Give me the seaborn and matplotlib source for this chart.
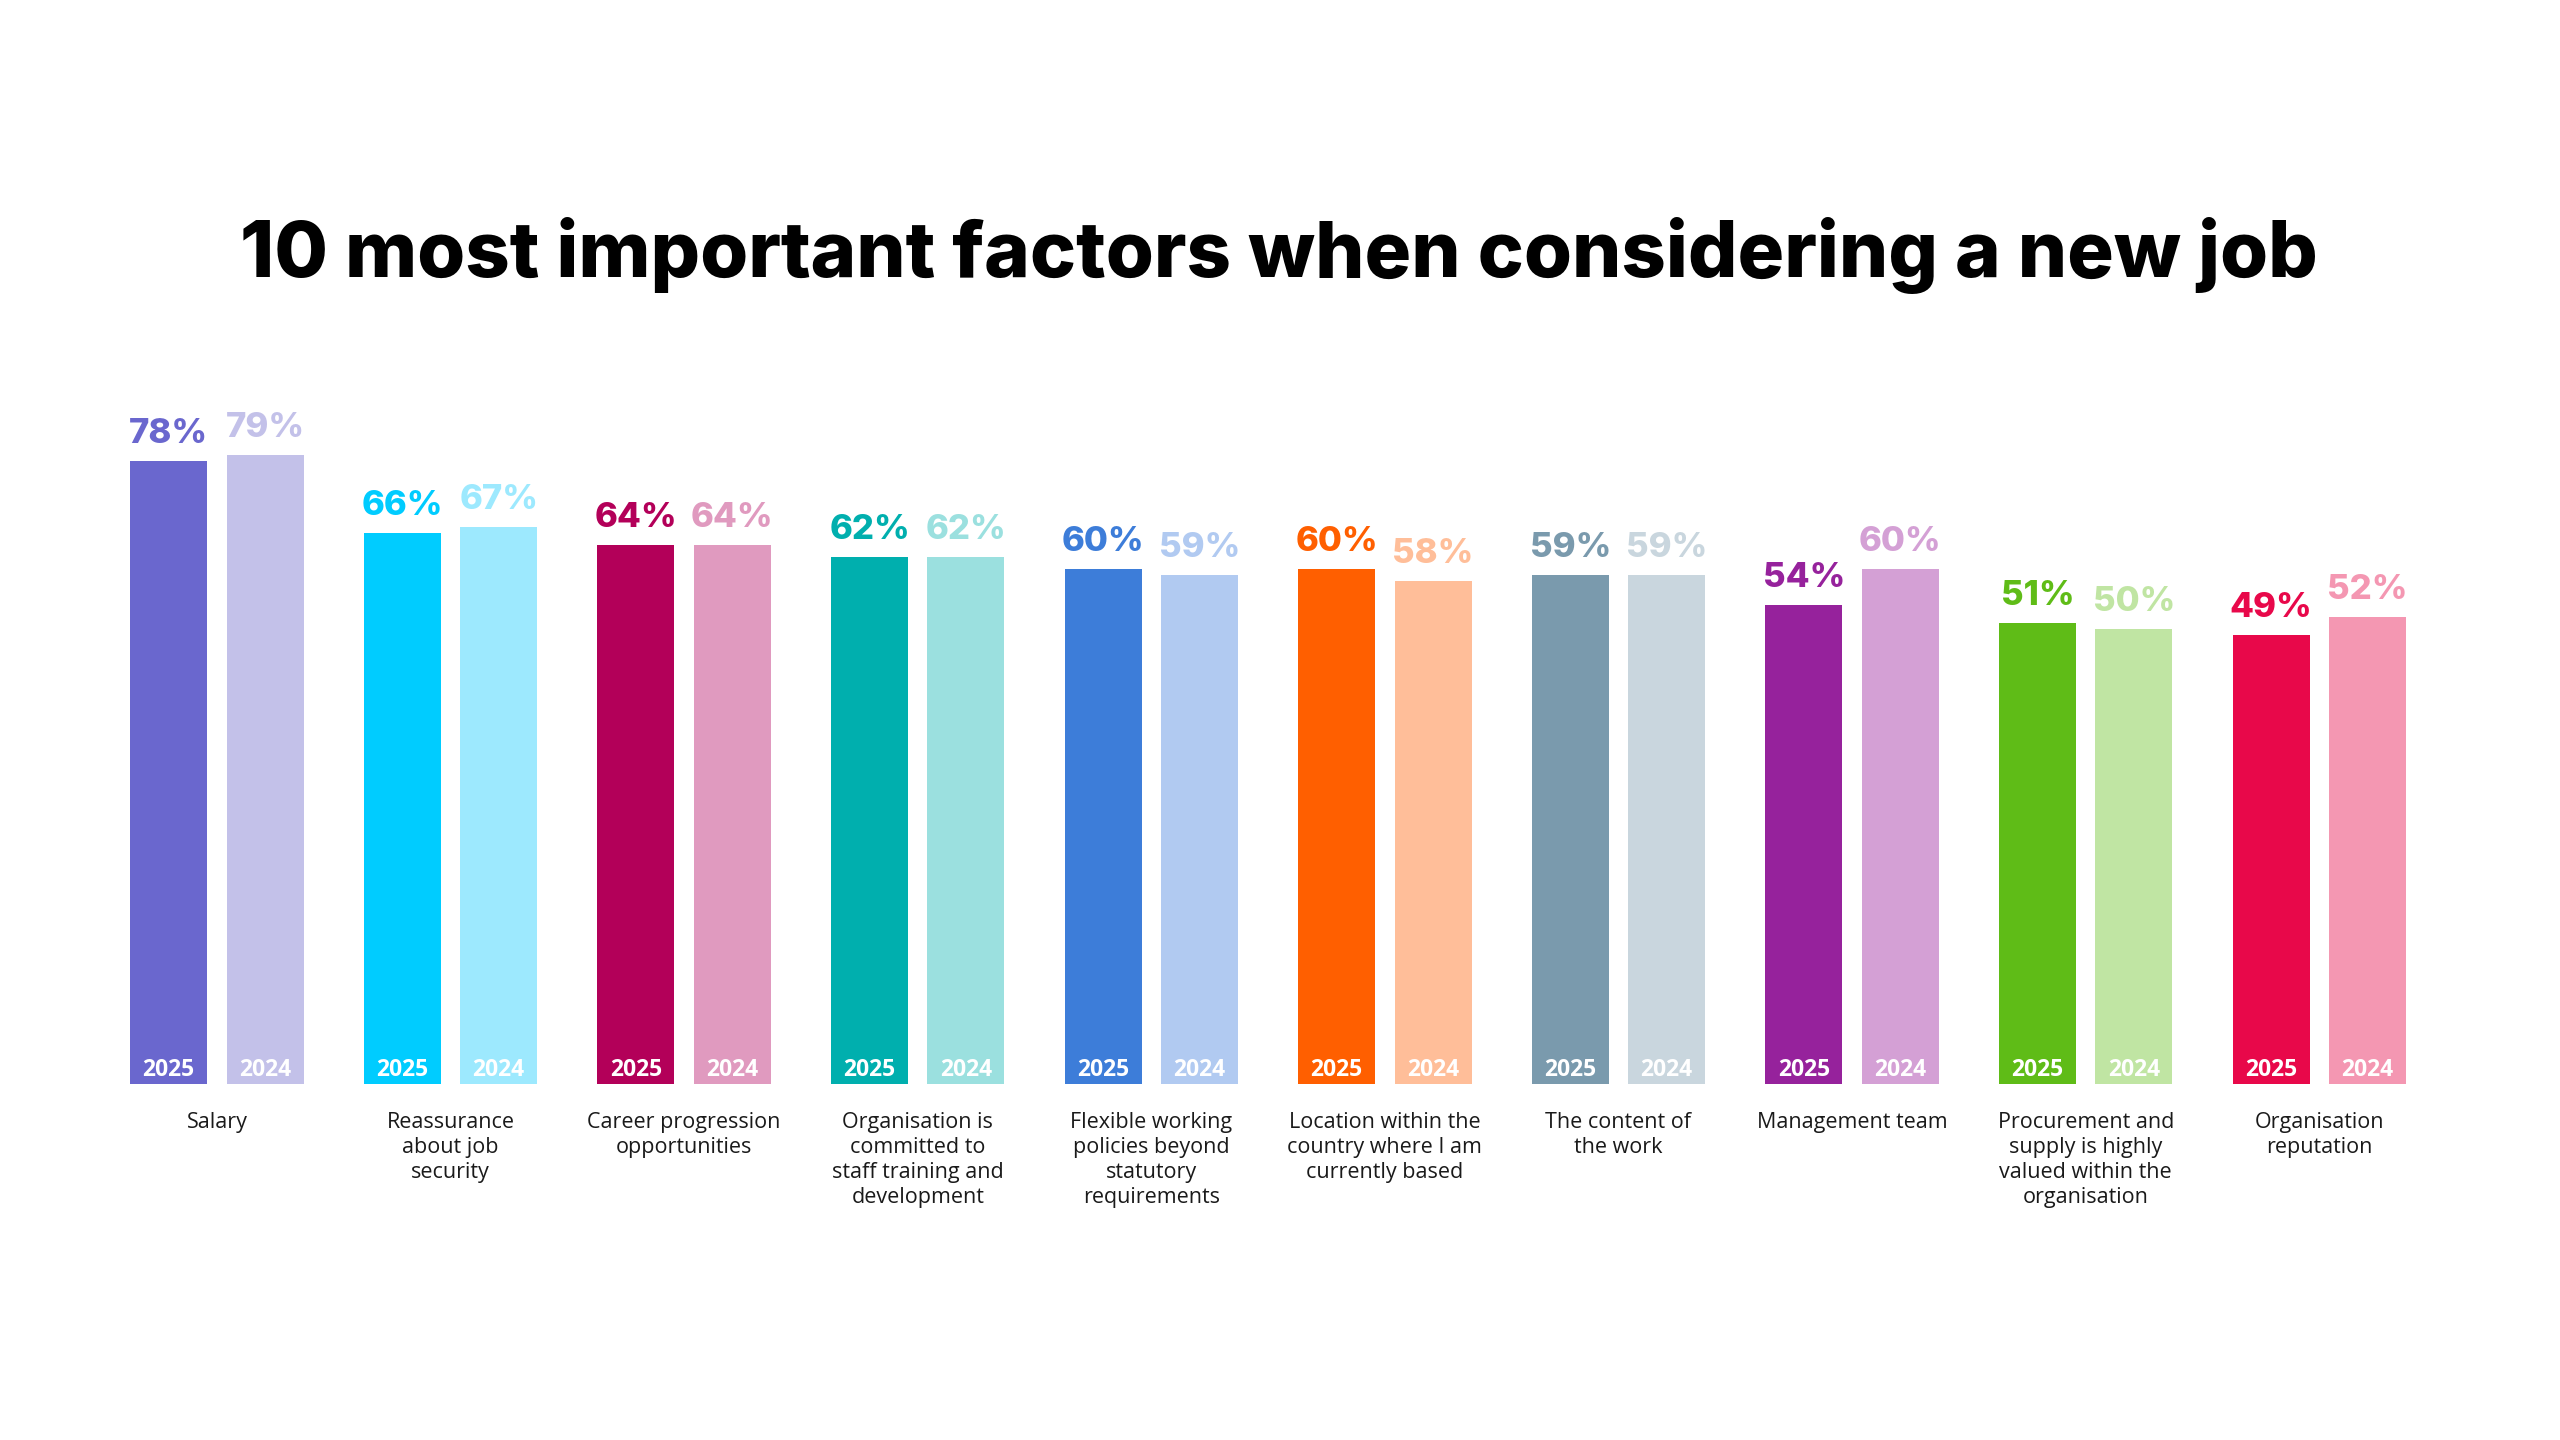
import matplotlib
matplotlib.use("Agg")
import matplotlib.pyplot as plt
import seaborn as sns
import pandas as pd

factors = [
    "Salary",
    "Reassurance\nabout job\nsecurity",
    "Career progression\nopportunities",
    "Organisation is\ncommitted to\nstaff training and\ndevelopment",
    "Flexible working\npolicies beyond\nstatutory\nrequirements",
    "Location within the\ncountry where I am\ncurrently based",
    "The content of\nthe work",
    "Management team",
    "Procurement and\nsupply is highly\nvalued within the\norganisation",
    "Organisation\nreputation",
]
values_2025 = [78, 66, 64, 62, 60, 60, 59, 54, 51, 49]
values_2024 = [79, 67, 64, 62, 59, 58, 59, 60, 50, 52]
years = ["2025", "2024"]
colors_2025 = ["#6A67CE", "#00CCFF", "#B30059", "#00AFAE", "#3D7DD9",
               "#FF5F00", "#7A9AAD", "#96229C", "#5FBC17", "#E8084A"]
colors_2024 = ["#C3C1E9", "#9DE9FE", "#E09ABF", "#9BE0DF", "#B1CAF1",
               "#FFBE99", "#C9D6DE", "#D4A0D5", "#C0E5A3", "#F497B2"]
title = "10 most important factors when considering a new job"
axis_floor = -26  # value axis does not start at zero in the original

df = pd.DataFrame({
    "factor": factors * 2,
    "value": values_2025 + values_2024,
    "year": [years[0]] * len(factors) + [years[1]] * len(factors),
})

sns.set_theme(style="white")
plt.rcParams["font.family"] = ["Open Sans", "DejaVu Sans"]

fig = plt.figure(figsize=(25.6, 14.4), dpi=100)
fig.patch.set_facecolor("white")
ax = fig.add_axes([0.0391, 0.2472, 0.9125, 0.5239])

sns.barplot(data=df, x="factor", y="value", hue="year", hue_order=years,
            order=factors, width=0.825, gap=0.2, legend=False, ax=ax,
            saturation=1)

palettes = [colors_2025, colors_2024]
for container, cols, yr in zip(ax.containers, palettes, years):
    for patch, c in zip(container.patches, cols):
        h = patch.get_height()
        # extend each bar down to the axis floor
        patch.set_y(axis_floor)
        patch.set_height(h - axis_floor)
        patch.set_facecolor(c)
        patch.set_edgecolor("none")
        cx = patch.get_x() + patch.get_width() / 2
        ax.annotate(f"{h:.0f}%", xy=(cx, h), xytext=(0, 13),
                    textcoords="offset points", ha="center", va="baseline",
                    fontsize=25, fontweight="heavy", color=c,
                    family=["Inter", "DejaVu Sans"])
        ax.annotate(yr, xy=(cx, axis_floor), xytext=(0, 6),
                    textcoords="offset points", ha="center", va="baseline",
                    fontsize=16.5, fontweight="bold", color="white",
                    family=["Open Sans", "DejaVu Sans"])

ax.set_xlim(-0.5, len(factors) - 0.5)
ax.set_ylim(axis_floor, 100)
ax.set_xlabel("")
ax.set_ylabel("")
ax.set_yticks([])
ax.tick_params(axis="x", length=0, pad=20)
ax.set_xticks(range(len(factors)))
ax.set_xticklabels(factors, fontsize=15.5, color="#1a1a1a", linespacing=1.25,
                   va="top")
for s in ax.spines.values():
    s.set_visible(False)
ax.set_facecolor("none")

fig.text(0.4997, 0.8076, title, ha="center", va="baseline", fontsize=56,
         fontweight="heavy", color="black", family=["Inter", "DejaVu Sans"])

fig.savefig("out.png", dpi=100, facecolor="white")
